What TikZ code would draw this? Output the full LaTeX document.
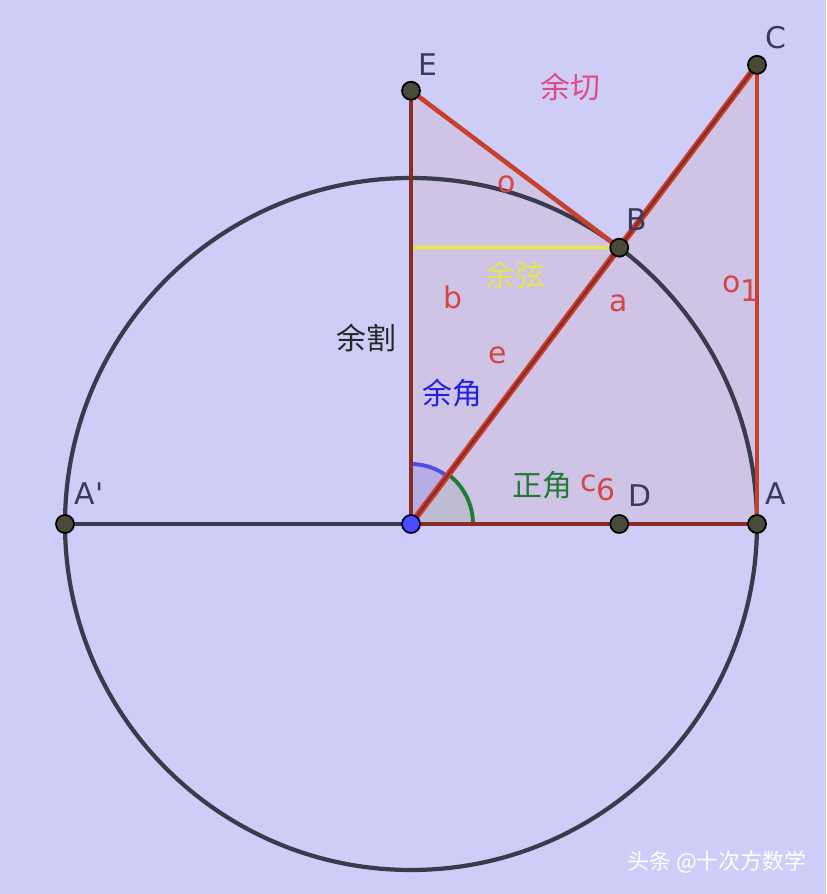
\documentclass[tikz,border=0pt]{standalone}
\usepackage{fontspec}
\setmainfont{DejaVu Sans}
\newfontfamily\gfont{DejaVu Sans}
\newfontfamily\cjk{Noto Sans CJK SC}
\usepackage{tikz}

\definecolor{bgcol}{HTML}{CDCDF7}
\definecolor{shadecol}{HTML}{CFC4E5}
\definecolor{segred}{HTML}{C8402C}
\definecolor{segdark}{HTML}{8A2C24}
\definecolor{circcol}{HTML}{3A3A4C}
\definecolor{ptcol}{HTML}{4A4A38}
\definecolor{namecol}{HTML}{3A3A5C}
\definecolor{lblcol}{HTML}{D04848}
\definecolor{cotcol}{HTML}{E04A84}
\definecolor{coscol}{HTML}{E4E458}
\definecolor{cocol}{HTML}{2222DD}
\definecolor{angcol}{HTML}{207A38}

\tikzset{
  pt/.style={circle,draw=black,fill=ptcol,line width=1pt,inner sep=0pt,minimum size=0.36cm},
  ptname/.style={text=namecol,font=\gfont\fontsize{17}{20}\selectfont},
  seglbl/.style={text=lblcol,font=\gfont\fontsize{17}{20}\selectfont},
  cjklbl/.style={font=\cjk\fontsize{17}{20}\selectfont}
}

\begin{document}
\begin{tikzpicture}
\useasboundingbox[fill=bgcol] (-8.22,-7.40) rectangle (8.30,10.48);

\coordinate (O) at (0,0);
\coordinate (A) at (6.92,0);
\coordinate (A') at (-6.92,0);
\coordinate (B) at (53:6.92);
\coordinate (C) at (6.92,9.183);
\coordinate (D) at (4.165,0);
\coordinate (E) at (0,8.665);
\coordinate (F) at (0,5.527);

% shaded triangles
\fill[shadecol] (O) -- (A) -- (C) -- cycle ;
\fill[shadecol] (O) -- (E) -- (B) -- cycle ;

% angles
\fill[blue!12!shadecol] (O) -- (90:1.2) arc (90:53:1.2) -- cycle ;
\fill[green!40!black!8!shadecol] (O) -- (0:1.24) arc (0:53:1.24) -- cycle ;
\draw[cocol!80!white,line width=2.2pt] (90:1.2) arc (90:53:1.2) ;
\draw[angcol,line width=2.2pt] (0:1.24) arc (0:53:1.24) ;

% circle and diameter
\draw[circcol,line width=2.4pt] (O) circle (6.92) ;
\draw[circcol,line width=2.2pt] (A') -- (O) ;

% segments
\draw[coscol,line width=2.2pt] (F) -- (B) ;
\draw[segdark,line width=2.6pt] (O) -- (E) ;
\draw[segdark,line width=2.6pt] (O) -- (A) ;
\draw[segred,line width=2.6pt] (A) -- (C) ;
\draw[segred,line width=2.6pt] (E) -- (B) ;
\draw[segred,line width=3.6pt] (O) -- (C) ;
\draw[segdark,line width=1.3pt] (O) -- (C) ;

% points
\node[pt] (pA) at (A) {};
\node[pt] (pA') at (A') {};
\node[pt] (pB) at (B) {};
\node[pt] (pC) at (C) {};
\node[pt] (pD) at (D) {};
\node[pt] (pE) at (E) {};
\node[pt,fill=blue!70!white,draw=black!80!blue] (pO) at (O) {};

% point names
\node[ptname] (nE) at (0.34,9.18) {E};
\node[ptname] (nC) at (7.30,9.72) {C};
\node[ptname] (nB) at (4.52,6.08) {B};
\node[ptname] (nA') at (-6.44,0.60) {A'};
\node[ptname] (nA) at (7.30,0.60) {A};
\node[ptname] (nD) at (4.58,0.56) {D};

% segment names
\node[seglbl] (lo) at (1.92,6.80) {o};
\node[seglbl] (lb) at (0.84,4.54) {b};
\node[seglbl] (la) at (4.16,4.42) {a};
\node[seglbl] (le) at (1.74,3.38) {e};
\node[seglbl] (lc) at (3.74,0.72) {c\raisebox{-0.55ex}{6}};
\node[seglbl] (lo1) at (6.60,4.70) {o\raisebox{-0.55ex}{1}};

% names of lines and angles
\node[cjklbl,text=cotcol] (cot) at (3.18,8.74) {余切};
\node[cjklbl,text=coscol] (cos) at (2.08,4.98) {余弦};
\node[cjklbl,text=black!85] (csc) at (-0.90,3.72) {余割};
\node[cjklbl,text=cocol] (coang) at (0.82,2.62) {余角};
\node[cjklbl,text=angcol] (ang) at (2.62,0.78) {正角};

\node[font=\cjk\fontsize{12.5}{14}\selectfont,text=white] (mark) at (6.12,-6.76) {头条 @十次方数学};
\end{tikzpicture}
\end{document}
